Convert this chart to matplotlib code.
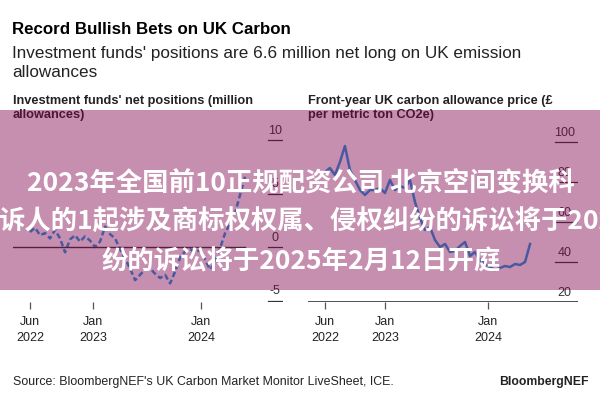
import datetime as dt
import pandas as pd
import matplotlib
matplotlib.use("Agg")
import matplotlib.pyplot as plt
import matplotlib.dates as mdates
from matplotlib.patches import Rectangle
from matplotlib.transforms import blended_transform_factory

# Data
start_date = "2022-06-01"
end_date = "2024-05-28"

# investment funds' net positions, million allowances (roughly weekly)
net_positions = [1.4, 1.8, 1.1, 1.3, 0.8, 1.6, 0.8, -0.5, 0.7, 1.1, 0.5, 1.0,
                 0.6, 0.0, 0.5, 1.9, 1.2, 0.8, -0.2, -1.1, -2.0, -3.1, -2.6,
                 -2.1, -2.0, -2.5, -2.9, -2.6, -3.4, -2.3, -1.0, -0.4, -0.2,
                 -0.5, -0.3, -1.2, -2.1, -1.4, -0.1, 1.3, 2.2, 3.2, 4.9, 6.6]

# front-year UK carbon allowance price, GBP per metric ton CO2e
uka_price = [85, 87, 83.5, 90, 98, 86, 81, 76, 73.5, 76, 76, 77, 74.5, 81,
             76, 78, 77, 81, 70, 62, 56, 57.5, 51, 47.5, 49, 45, 45.5, 48, 50,
             43, 45, 41, 39, 37.5, 36, 37, 38, 37.5, 39, 38.5, 40, 49]

xtick_dates = ["2022-06-01", "2023-01-01", "2024-01-01"]
xtick_labels = ["Jun\n2022", "Jan\n2023", "Jan\n2024"]
left_yticks = [-5, 0, 5, 10]
right_yticks = [20, 40, 60, 80, 100]

title = "Record Bullish Bets on UK Carbon"
subtitle = "Investment funds' positions are 6.6 million net long on UK emission\nallowances"
left_title = "Investment funds' net positions (million\nallowances)"
right_title = "Front-year UK carbon allowance price (£\nper metric ton CO2e)"
source = "Source: BloombergNEF's UK Carbon Market Monitor LiveSheet, ICE."
banner = ["2023年全国前10正规配资公司 北京空间变换科",
          "诉人的1起涉及商标权权属、侵权纠纷的诉讼将于2025年2月12日开庭",
          "纷的诉讼将于2025年2月12日开庭"]

plt.rcParams['font.family'] = ['Liberation Sans', 'DejaVu Sans']

W, H = 600, 400
LINE_BLUE = '#1a9de6'
TXT = '#222222'


def fx(x):
    return x / W


def fy(y):
    return 1 - y / H


fig = plt.figure(figsize=(6, 4), dpi=100)
fig.patch.set_facecolor('white')

# axes placed in pixel terms
ax1 = fig.add_axes([fx(13), fy(302), 270 / W, 182 / H])
ax2 = fig.add_axes([fx(308), fy(302), 270 / W, 182 / H])

d0 = mdates.date2num(dt.datetime(2022, 6, 1))


def style(ax, dates, values, ylim, xlim, yticks, dash_from, lab_x, dashed):
    ax.set_facecolor('none')
    for s in ax.spines.values():
        s.set_visible(False)
    if dashed:
        ax.plot(dates, values, color=LINE_BLUE, lw=1.8, ls=(0, (2.2, 1.2)))
    else:
        ax.plot(dates, values, color=LINE_BLUE, lw=1.8)
    ax.set_ylim(*ylim)
    ax.set_xlim(*xlim)
    ax.set_yticks([])
    tr = blended_transform_factory(ax.transAxes, ax.transData)
    for v in yticks:
        ax.axhline(v, xmin=dash_from, xmax=1.0, color='#333333', lw=0.9)
        ax.annotate(str(v), (lab_x, v), xycoords=tr, xytext=(0, 2.5),
                    textcoords='offset points', ha='center', va='bottom',
                    fontsize=9, color='#333333')
    ax.set_xticks([mdates.date2num(pd.Timestamp(d)) for d in xtick_dates])
    ax.set_xticklabels(xtick_labels, fontsize=9, color=TXT, linespacing=1.45)
    ax.tick_params(axis='x', direction='out', length=5, width=0.9,
                   color='#555555', pad=5)


left_dates = mdates.date2num(pd.date_range(start_date, end_date, periods=len(net_positions)))
right_dates = mdates.date2num(pd.date_range(start_date, end_date, periods=len(uka_price)))

style(ax1, left_dates, net_positions, (-5.14, 11.87), (d0 - 57.5, d0 + 855),
      left_yticks, 0.944, 0.97, True)
ax1.axhline(0, xmin=0, xmax=0.86, color='#333333', lw=1.0)

style(ax2, right_dates, uka_price, (20, 111), (d0 - 60, d0 + 897),
      right_yticks, 0.915, 0.95, False)
ax2.axhline(20, xmin=0, xmax=1, color='#333333', lw=1.2)

# titles and notes
fig.text(fx(12), fy(29), title, fontsize=12.2, fontweight='bold', color='black', va='center')
fig.text(fx(12), fy(63), subtitle, fontsize=12.3, color=TXT, va='center', linespacing=1.3)
fig.text(fx(13), fy(108), left_title, fontsize=9.2, fontweight='bold', color=TXT,
         va='center', linespacing=1.2)
fig.text(fx(308), fy(108), right_title, fontsize=9.2, fontweight='bold', color=TXT,
         va='center', linespacing=1.2)
fig.text(fx(13), fy(382), source, fontsize=8.9, color=TXT, va='center')
fig.text(fx(589), fy(382), "BloombergNEF", fontsize=8.8, fontweight='bold', color=TXT,
         va='center', ha='right')

# pink banner over the middle of the chart
fig.patches.append(Rectangle((0, fy(290)), 1, 180 / H, transform=fig.transFigure,
                             facecolor='#81074f', alpha=0.45, edgecolor='none', zorder=5))
cjk = ['Noto Sans CJK SC', 'DejaVu Sans']
fig.text(fx(301), fy(183), banner[0], fontsize=19, fontweight='bold', color='white',
         ha='center', va='center', family=cjk, zorder=6)
fig.text(fx(-2), fy(221), banner[1], fontsize=19, fontweight='bold', color='white',
         ha='left', va='center', family=cjk, zorder=6)
fig.text(fx(301), fy(262), banner[2], fontsize=19, fontweight='bold', color='white',
         ha='center', va='center', family=cjk, zorder=6)

fig.savefig('out.png', dpi=100)
